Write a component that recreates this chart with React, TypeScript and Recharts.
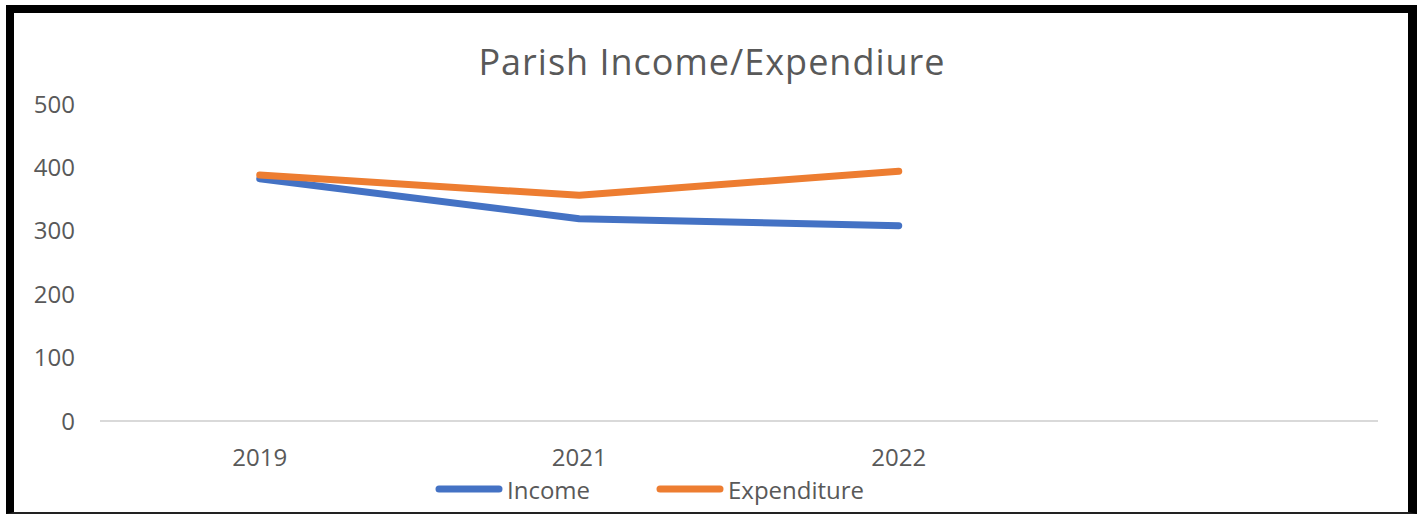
import React from 'react';
import { LineChart, Line, XAxis, YAxis } from 'recharts';

const categories = ['2019', '2021', '2022', ''];
const income = [382, 319, 308, null];
const expenditure = [388, 356, 394, null];
const yTicks = [0, 100, 200, 300, 400, 500];
const title = 'Parish Income/Expendiure';
const seriesNames = ['Income', 'Expenditure'];
const seriesColors = ['#4472C4', '#ED7D31'];

const data = categories.map((c, i) => ({ year: c, Income: income[i], Expenditure: expenditure[i] }));

const FONT = '"Open Sans", "Noto Sans", sans-serif';
const TEXT = '#595959';

export default function App() {
  return (
    <div style={{ position: 'absolute', left: 0, top: 0, width: 1418, height: 515, background: '#fff', overflow: 'hidden' }}>
      <div
        style={{
          position: 'absolute',
          left: 6,
          top: 5,
          width: 1411,
          height: 509,
          boxSizing: 'border-box',
          borderLeft: '8px solid #000',
          borderTop: '8px solid #000',
          borderRight: '9px solid #000',
          borderBottom: '2px solid #222',
        }}
      />
      <div
        style={{
          position: 'absolute',
          left: 0,
          width: 1424,
          top: 39,
          textAlign: 'center',
          fontFamily: FONT,
          fontSize: 36,
          letterSpacing: 1,
          color: TEXT,
          lineHeight: '46px',
          whiteSpace: 'nowrap',
        }}
      >
        {title}
      </div>
      <div style={{ position: 'absolute', left: 0, top: 0 }}>
        <LineChart width={1418} height={515} data={data} margin={{ top: 104, right: 40, left: 0, bottom: 54 }}>
          <XAxis
            dataKey="year"
            padding={{ left: 159.75, right: 159.75 }}
            axisLine={{ stroke: '#D9D9D9', strokeWidth: 2 }}
            tickLine={false}
            tickSize={0}
            tickMargin={28}
            height={40}
            interval={0}
            tick={{ fill: TEXT, fontSize: 24, fontFamily: FONT }}
          />
          <YAxis
            domain={[0, 500]}
            ticks={yTicks}
            width={100}
            axisLine={false}
            tickLine={false}
            tickSize={0}
            tickMargin={25}
            interval={0}
            tick={{ fill: TEXT, fontSize: 24, fontFamily: FONT }}
          />
          <Line
            dataKey="Income"
            stroke={seriesColors[0]}
            strokeWidth={7}
            strokeLinecap="round"
            strokeLinejoin="round"
            dot={false}
            activeDot={false}
            isAnimationActive={false}
          />
          <Line
            dataKey="Expenditure"
            stroke={seriesColors[1]}
            strokeWidth={7}
            strokeLinecap="round"
            strokeLinejoin="round"
            dot={false}
            activeDot={false}
            isAnimationActive={false}
          />
        </LineChart>
      </div>
      {seriesNames.map((name, i) => (
        <div
          key={name}
          style={{
            position: 'absolute',
            left: i === 0 ? 435 : 656,
            top: 473,
            height: 32,
            display: 'flex',
            alignItems: 'center',
            fontFamily: FONT,
            fontSize: 24,
            color: TEXT,
            whiteSpace: 'nowrap',
          }}
        >
          <svg width={70} height={10} style={{ display: 'block' }}>
            <line x1={4} y1={5} x2={64} y2={5} stroke={seriesColors[i]} strokeWidth={7} strokeLinecap="round" />
          </svg>
          <span style={{ marginLeft: 2 }}>{name}</span>
        </div>
      ))}
    </div>
  );
}
